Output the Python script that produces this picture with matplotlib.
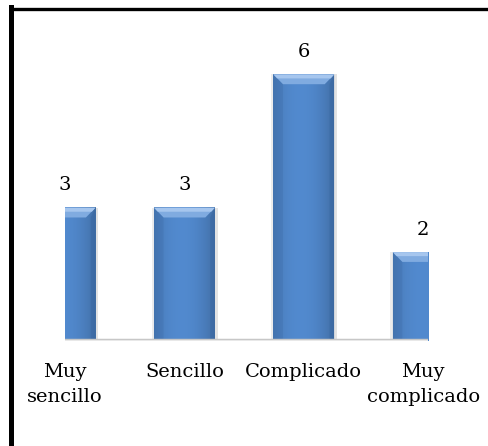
import numpy as np
import matplotlib.pyplot as plt
from matplotlib.patches import Polygon, Rectangle
from matplotlib.lines import Line2D

# Survey answers and counts
categorias = ["Muy\nsencillo", "Sencillo", "Complicado", "Muy\ncomplicado"]
valores = [3, 3, 6, 2]

plt.rcParams['font.family'] = ['DejaVu Serif']

fig = plt.figure(figsize=(4.89, 4.46), dpi=100)
ax = fig.add_axes([65 / 489, 1 - 341 / 446, 363 / 489, 311 / 446])

x = np.arange(len(valores))
ancho = 0.51

# horizontal shading across each bar: slightly darker edges, lighter middle
grad = np.linspace(0, 1, 64)
shade = 1 - 0.16 * (np.abs(grad - 0.45) * 2) ** 2
base = np.array([0.32, 0.54, 0.81])
img = np.clip(base[None, :] * shade[:, None], 0, 1)[None, :, :]

bars = ax.bar(x, valores, width=ancho, color='#4f86c6', zorder=2, edgecolor='none')
for b, v in zip(bars, valores):
    x0 = b.get_x()
    w = b.get_width()
    # soft shadow on both sides
    ax.add_patch(Rectangle((x0 + w, 0), 0.025, v, color='#d8d8d8', alpha=0.7, zorder=1, lw=0))
    ax.add_patch(Rectangle((x0 - 0.02, 0), 0.02, v, color='#e4e4e4', alpha=0.7, zorder=1, lw=0))
    ax.imshow(img, extent=(x0, x0 + w, 0, v), aspect='auto', zorder=3, interpolation='bilinear')
    # bevel on top of the bar
    bh = 0.22
    bw = 0.08
    ax.add_patch(Polygon([(x0, v), (x0 + w, v), (x0 + w - bw, v - bh), (x0 + bw, v - bh)],
                         closed=True, color='#80abe0', lw=0, zorder=4))
    ax.add_patch(Polygon([(x0, v), (x0 + w, v), (x0 + w - 0.03, v - 0.09), (x0 + 0.03, v - 0.09)],
                         closed=True, color='#a6c6ee', lw=0, zorder=4))
    ax.add_patch(Polygon([(x0, v), (x0 + bw, v - bh), (x0 + bw, 0.05), (x0, 0)],
                         closed=True, color='#3c6aa5', alpha=0.3, lw=0, zorder=4))
    ax.add_patch(Polygon([(x0 + w, v), (x0 + w - bw * 0.5, v - bh), (x0 + w - bw * 0.5, 0.05), (x0 + w, 0)],
                         closed=True, color='#34609a', alpha=0.35, lw=0, zorder=4))
    ax.text(x0 + w / 2, v + 0.3, str(v), ha='center', va='bottom', fontsize=14, color='black')

ax.axhline(0, color='#c4c4c4', lw=3.2, zorder=5)
ax.axhline(0, color='#e8e8e8', lw=1.6, zorder=6)

ax.set_xlim(0, 3.04)
ax.set_ylim(0, 7)
ax.set_xticks(x)
ax.set_xticklabels(categorias, fontsize=14, linespacing=1.5, va='top')
ax.tick_params(axis='x', length=0, pad=16)
ax.set_yticks([])
for s in ax.spines.values():
    s.set_visible(False)

# frame around the figure
fig.add_artist(Line2D([11 / 489, 1], [1 - 8.5 / 446, 1 - 8.5 / 446], color='black', lw=2.4))
fig.add_artist(Line2D([11.5 / 489, 11.5 / 489], [0, 1 - 7 / 446], color='black', lw=3.6))

fig.savefig('out.png', dpi=100)
